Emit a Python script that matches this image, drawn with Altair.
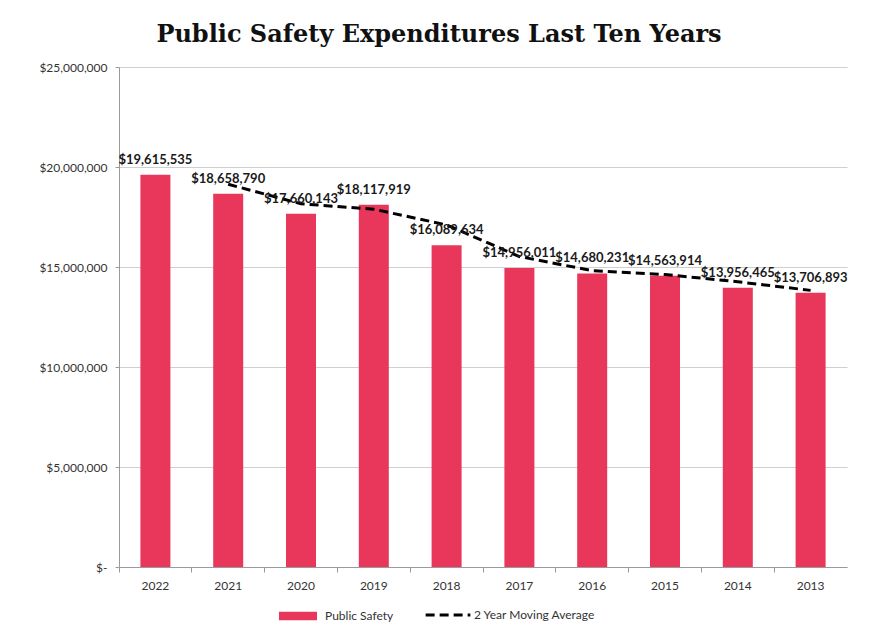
import altair as alt
import pandas as pd

years = ["2022", "2021", "2020", "2019", "2018", "2017", "2016", "2015", "2014", "2013"]
public_safety = [19615535, 18658790, 17660143, 18117919, 16089634, 14956011, 14680231, 14563914, 13956465, 13706893]
ma_years = ["2021", "2020", "2019", "2018", "2017", "2016", "2015", "2014", "2013"]
moving_avg = [19137162.5, 18159466.5, 17889031, 17103776.5, 15522822.5, 14818121, 14622072.5, 14260189.5, 13831679]

bars_df = pd.DataFrame({
    "year": years,
    "value": public_safety,
    "label": ["${:,}".format(v) for v in public_safety],
    "series": ["Public Safety"] * len(years),
})
ma_df = pd.DataFrame({
    "year": ma_years,
    "value": moving_avg,
    "series": ["2 Year Moving Average"] * len(ma_years),
})

FONT = "Lato"
x_enc = alt.X("year:N", sort=years, title=None,
              scale=alt.Scale(paddingInner=0, paddingOuter=0),
              axis=alt.Axis(labelAngle=0, labelFont=FONT, labelFontSize=12, labelColor="#333333",
                            labelPadding=8, domainColor="#9a9a9a", tickColor="#9a9a9a",
                            tickSize=5, bandPosition=0, grid=False))
y_scale = alt.Scale(domain=[0, 25000000])

bars = alt.Chart(bars_df).mark_bar(size=30).encode(
    x=x_enc,
    y=alt.Y("value:Q", scale=y_scale, title=None,
            axis=alt.Axis(values=[0, 5000000, 10000000, 15000000, 20000000, 25000000],
                          labelExpr="datum.value == 0 ? '$-     ' : '$' + format(datum.value, ',')",
                          labelFont=FONT, labelFontSize=12, labelColor="#333333",
                          labelPadding=8, tickSize=4, tickColor="#9a9a9a",
                          domainColor="#9a9a9a", gridColor="#cfcfcf", gridWidth=1)),
    color=alt.Color("series:N", scale=alt.Scale(domain=["Public Safety"], range=["#E8375B"]),
                    legend=alt.Legend(title=None, orient="none", legendX=160, legendY=530,
                                      symbolType="M-1,-0.22H1V0.22H-1Z",
                                      symbolSize=1444, labelFont=FONT, labelFontSize=12,
                                      labelColor="#333333", symbolStrokeWidth=0, labelOffset=8)),
)

labels = alt.Chart(bars_df).mark_text(baseline="bottom", dy=-8, font=FONT, fontSize=13,
                                      fontWeight="bold", color="#1a1a1a").encode(
    x=alt.X("year:N", sort=years),
    y=alt.Y("value:Q", scale=y_scale),
    text="label:N",
)

line = alt.Chart(ma_df).mark_line(color="black", strokeWidth=3).encode(
    x=alt.X("year:N", sort=years),
    y=alt.Y("value:Q", scale=y_scale),
    strokeDash=alt.StrokeDash("series:N", scale=alt.Scale(domain=["2 Year Moving Average"], range=[[9, 5]]),
                              legend=alt.Legend(title=None, orient="none", legendX=305, legendY=524,
                                                symbolType="stroke",
                                                symbolStrokeColor="black", symbolStrokeWidth=3,
                                                symbolSize=2000, labelFont=FONT, labelFontSize=12,
                                                labelColor="#333333", labelOffset=2)),
)

chart = alt.layer(bars, line, labels).properties(
    width=728, height=500,
    title=alt.TitleParams("Public Safety  Expenditures Last Ten Years", font="DejaVu Serif",
                          fontSize=24, fontWeight="bold", color="#111111", anchor="middle",
                          offset=14, dx=-44),
    padding={"left": 30, "top": 15, "right": 5, "bottom": 5},
).configure_view(stroke=None)

chart.save("out.html", embed_options={"renderer": "svg", "actions": False})
